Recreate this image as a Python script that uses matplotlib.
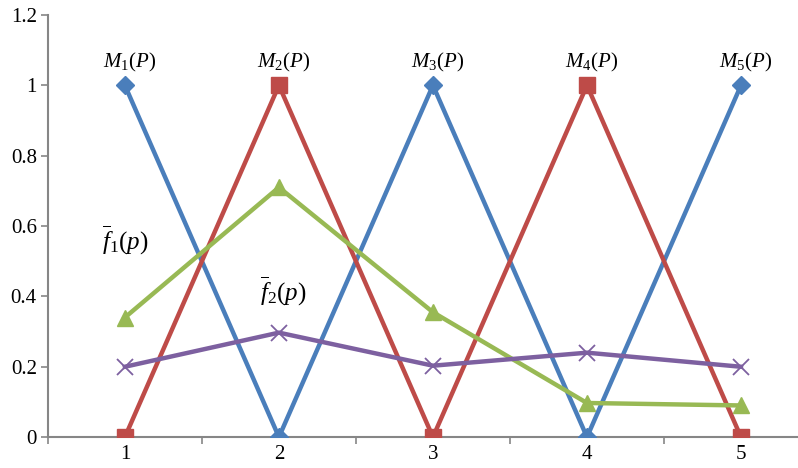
import numpy as np
import matplotlib
matplotlib.use('Agg')
import matplotlib.pyplot as plt

plt.rcParams['font.family'] = ['Liberation Serif', 'DejaVu Serif']
plt.rcParams['mathtext.fontset'] = 'custom'
plt.rcParams['mathtext.rm'] = 'Liberation Serif'
plt.rcParams['mathtext.it'] = 'Liberation Serif:italic'

# data
x = [1, 2, 3, 4, 5]
m_odd = [1, 0, 1, 0, 1]
m_even = [0, 1, 0, 1, 0]
f1 = [0.34, 0.71, 0.355, 0.097, 0.09]
f2 = [0.20, 0.297, 0.203, 0.24, 0.20]
m_labels = ['$M_1(P)$', '$M_2(P)$', '$M_3(P)$', '$M_4(P)$', '$M_5(P)$']

fig = plt.figure(figsize=(7.98, 4.68), dpi=100)
ax = fig.add_axes([0.060, 0.066, 0.94, 0.902])

ax.plot(x, m_odd, color='#4a7ebb', lw=3.2, marker='D', ms=9, zorder=3)
ax.plot(x, m_even, color='#be4b48', lw=3.2, marker='s', ms=11, zorder=3)
ax.plot(x, f1, color='#98b954', lw=3.2, marker='^', ms=11, zorder=4)
ax.plot(x, f2, color='#7d60a0', lw=3.2, marker='x', ms=11, mew=1.3, zorder=4)

for xi, lab in zip(x, m_labels):
    ax.text(xi + 0.03, 1.065, lab, ha='center', va='center', fontsize=15)
ax.text(0.85, 0.56, r'$\overline{f}_1(p)$', ha='left', va='center', fontsize=18)
ax.text(1.88, 0.415, r'$\overline{f}_2(p)$', ha='left', va='center', fontsize=18)

ax.set_xlim(0.5, 5.37)
ax.set_ylim(0, 1.2)
ax.set_yticks(np.arange(0, 1.21, 0.2))
ax.set_yticklabels(['0', '0.2', '0.4', '0.6', '0.8', '1', '1.2'])
ax.set_xticks(x)
ax.set_xticklabels([str(v) for v in x])
ax.set_xticks([0.5, 1.5, 2.5, 3.5, 4.5], minor=True)
ax.tick_params(axis='x', which='major', length=0, labelsize=15, pad=6)
ax.tick_params(axis='x', which='minor', length=5, width=1.2, color='#868686')
ax.tick_params(axis='y', length=5, width=1.2, color='#868686', labelsize=15, pad=3)

for s in ['top', 'right']:
    ax.spines[s].set_visible(False)
for s in ['left', 'bottom']:
    ax.spines[s].set_color('#868686')
    ax.spines[s].set_linewidth(1.5)

plt.savefig('out.png', dpi=100)
plt.close('all')
